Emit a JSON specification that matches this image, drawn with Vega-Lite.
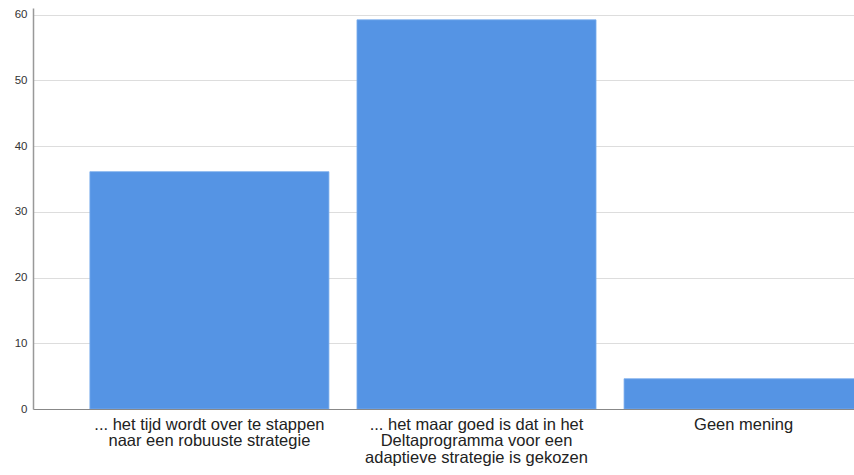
{
  "$schema": "https://vega.github.io/schema/vega-lite/v6.json",
  "autosize": "none",
  "width": 821,
  "height": 401,
  "padding": {"left": 33, "top": 8, "right": 0, "bottom": 66},
  "background": "white",
  "data": {
    "values": [
      {"antwoord": "... het tijd wordt over te stappen naar een robuuste strategie", "percentage": 36.1},
      {"antwoord": "... het maar goed is dat in het Deltaprogramma voor een adaptieve strategie is gekozen", "percentage": 59.2},
      {"antwoord": "Geen mening", "percentage": 4.6}
    ]
  },
  "config": {
    "view": {"stroke": null},
    "font": "Liberation Sans"
  },
  "mark": {"type": "bar", "color": "#5594e4", "stroke": "#79acec", "strokeWidth": 0.8, "clip": true},
  "encoding": {
    "x": {
      "field": "antwoord",
      "type": "nominal",
      "sort": null,
      "scale": {"range": [0, 887], "paddingInner": 0.105, "paddingOuter": 0.213},
      "axis": {
        "title": null,
        "labelAngle": 0,
        "ticks": false,
        "domainColor": "#888888",
        "domainWidth": 1,
        "labelFontSize": 16.5,
        "labelColor": "#222222",
        "labelPadding": 7,
        "labelLineHeight": 16.5,
        "labelLimit": 400,
        "labelExpr": "datum.label == 'Geen mening' ? 'Geen mening' : (indexof(datum.label, 'robuuste') >= 0 ? ['... het tijd wordt over te stappen', 'naar een robuuste strategie'] : ['... het maar goed is dat in het', 'Deltaprogramma voor een', 'adaptieve strategie is gekozen'])"
      }
    },
    "y": {
      "field": "percentage",
      "type": "quantitative",
      "scale": {"domain": [0, 61], "nice": false},
      "axis": {
        "title": null,
        "values": [0, 10, 20, 30, 40, 50, 60],
        "ticks": false,
        "grid": true,
        "gridColor": "#dddddd",
        "gridWidth": 1,
        "domainColor": "#999999",
        "domainWidth": 1.5,
        "labelFontSize": 11.5,
        "labelColor": "#333333",
        "labelPadding": 6
      }
    }
  }
}
